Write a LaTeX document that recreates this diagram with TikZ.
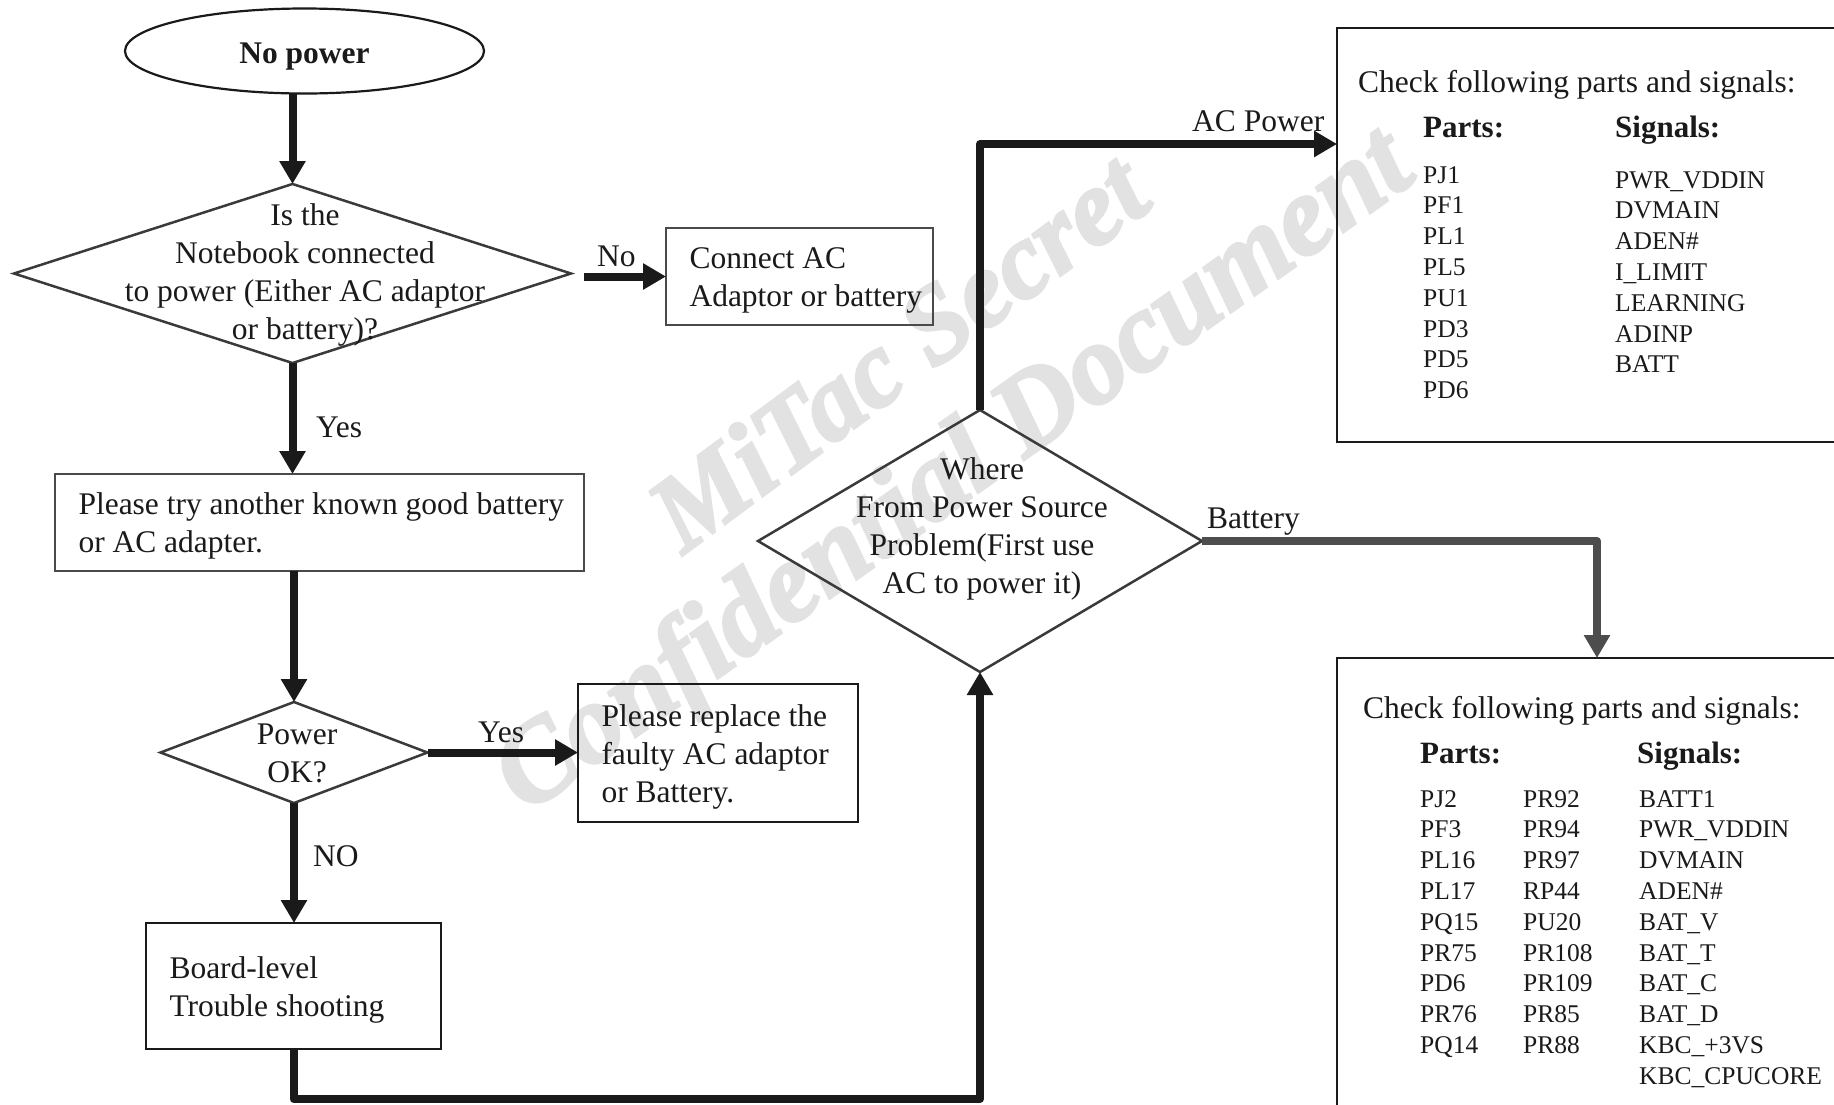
\documentclass[tikz,border=0pt]{standalone}
\usepackage{fontspec}
\setmainfont{Liberation Serif}
\newfontfamily\wmfamily{Liberation Serif}[BoldItalicFeatures={FakeBold=2.5}]
\usetikzlibrary{shapes.geometric,arrows.meta,calc}
\definecolor{ink}{HTML}{1A1A1A}
\definecolor{shapegray}{HTML}{3A3A3A}
\definecolor{boxgray}{HTML}{4A4A4A}
\definecolor{batgray}{HTML}{4D4D4D}
\definecolor{wm}{HTML}{E2E2E2}
\newcommand{\mainsz}{\fontsize{31.5}{38}\selectfont}
\newcommand{\listsz}{\fontsize{25.5}{30.8}\selectfont}
\newcommand{\nsp}{\spaceskip=0pt\xspaceskip=0pt\relax\rule{0pt}{29pt}}
\begin{document}
\begin{tikzpicture}[x=1pt,y=-1pt,
  wmark/.style={font=\wmfamily\bfseries\itshape, text=wm, inner sep=0pt, anchor=base west},
  term/.style={ellipse, draw=ink, line width=2.2pt, inner sep=0pt, outer sep=0pt, font=\mainsz\bfseries, text=ink, text height=24pt, text depth=0pt},
  decision/.style={diamond, draw=shapegray, line width=2.5pt, inner sep=0pt, outer sep=0pt},
  dtext/.style={align=center, font=\mainsz, inner sep=0pt, text=ink},
  box/.style={rectangle, draw=#1, line width=2.5pt, inner xsep=23.5pt, inner ysep=0pt, outer sep=0pt, align=left, font=\mainsz, text=ink},
  bigbox/.style={rectangle, draw=ink, line width=2.5pt, inner sep=0pt, outer sep=0pt, minimum width=563pt},
  lbl/.style={anchor=base west, font=\mainsz, inner sep=0pt, text=ink},
  hdr/.style={anchor=base west, font=\fontsize{31}{38}\selectfont\bfseries, inner sep=0pt, text=ink},
  col/.style={anchor=north west, align=left, font=\listsz, inner sep=0pt, text=ink},
  arr/.style={draw=ink, line width=8pt, line join=round, -{Triangle[width=25pt,length=23pt]}},
  batarr/.style={draw=batgray, line width=8pt, line join=round, -{Triangle[width=25pt,length=23pt]}}
]
\useasboundingbox (0,0) rectangle (1834,1104);
\clip (0,0) rectangle (1834,1104);
\fill[white] (0,0) rectangle (1834,1104);

% watermark
\node[wmark, rotate=36.5, font=\wmfamily\bfseries\itshape\fontsize{108}{120}\selectfont] (wm1) at (683,555) {MiTac Secret};
\node[wmark, rotate=35.5, font=\wmfamily\bfseries\itshape\fontsize{113}{120}\selectfont] (wm2) at (526,815) {Confidential Document};

% left column
\node[term, minimum width=359pt, minimum height=85pt] (start) at (304.5,51) {No power};
\node[decision, minimum width=557pt, minimum height=179pt,
  label={[dtext, xshift=12.5pt, yshift=-1.7pt]center:{Is the\\Notebook connected\\to power (Either AC adaptor\\or battery)?}}] (d1) at (292.5,273.5) {};
\node[box=boxgray, text width=220pt, minimum height=97pt] (b1) at (799.5,276.5) {\nsp Connect AC\\\mbox{Adaptor or battery}};
\node[box=boxgray, text width=482pt, minimum height=97pt] (b2) at (319.5,522.5) {\nsp\mbox{Please try another known good battery}\\or AC adapter.};
\node[decision, minimum width=267pt, minimum height=101pt,
  label={[dtext, xshift=3pt, yshift=-1pt]center:{Power\\OK?}}] (d3) at (294,752.5) {};
\node[box=ink, text width=233pt, minimum height=138pt] (b3) at (718,753) {\nsp Please replace the\\\mbox{faulty AC adaptor}\\or Battery.};
\node[box=ink, text width=248pt, minimum height=126pt] (b4) at (293.5,986) {\nsp Board-level\\Trouble shooting};

% middle decision
\node[decision, minimum width=444pt, minimum height=262pt,
  label={[dtext, xshift=2pt, yshift=12pt]center:{Where\\From Power Source\\Problem(First use\\AC to power it)}}] (d2) at (980,541) {};

% right boxes
\node[bigbox, minimum height=414pt] (rb1) at (1618.5,235) {};
\node[bigbox, minimum height=492pt] (rb2) at (1618.5,904) {};

\node[lbl] (h1) at (1358,92) {Check following parts and signals:};
\node[hdr] (p1h) at (1423,137) {Parts:};
\node[hdr] (s1h) at (1615,137) {Signals:};
\node[col] (p1) at (1423,161.4) {\strut PJ1\\PF1\\PL1\\PL5\\PU1\\PD3\\PD5\\PD6};
\node[col] (s1) at (1615,166.4) {\strut PWR\_VDDIN\\DVMAIN\\ADEN\#\\I\_LIMIT\\LEARNING\\ADINP\\BATT};

\node[lbl] (h2) at (1363,718) {Check following parts and signals:};
\node[hdr] (p2h) at (1420,763) {Parts:};
\node[hdr] (s2h) at (1637,763) {Signals:};
\node[col] (p2a) at (1420,785.4) {\strut PJ2\\PF3\\PL16\\PL17\\PQ15\\PR75\\PD6\\PR76\\PQ14};
\node[col] (p2b) at (1523,785.4) {\strut PR92\\PR94\\PR97\\RP44\\PU20\\PR108\\PR109\\PR85\\PR88};
\node[col] (s2) at (1639,785.4) {\strut BATT1\\PWR\_VDDIN\\DVMAIN\\ADEN\#\\BAT\_V\\BAT\_T\\BAT\_C\\BAT\_D\\KBC\_+3VS\\KBC\_CPUCORE};

% connector labels
\node[lbl] (lno) at (597,266) {No};
\node[lbl] (lyes1) at (316,437) {Yes};
\node[lbl] (lyes2) at (478,742) {Yes};
\node[lbl] (lNO) at (313,866) {NO};
\node[lbl] (lac) at (1192,131) {AC Power};
\node[lbl] (lbat) at (1207,528) {Battery};

% connectors
\draw[arr] (start.south -| d1.north) -- (d1.north);
\draw[arr] (d1.south) -- (d1.south |- b2.north);
\draw[arr] ($(d1.east |- b1.west)+(13,0)$) -- (b1.west);
\draw[arr] (b2.south -| d3.north) -- (d3.north);
\draw[arr] (d3.east) -- (b3.west |- d3.east);
\draw[arr] (d3.south) -- (d3.south |- b4.north);
\draw[arr] (b4.south) -- ++(0,50) -| (d2.south);
\draw[arr] (d2.north) |- ([yshift=-116pt]rb1.north west);
\draw[batarr] (d2.east) -| ([xshift=260pt]rb2.north west);
\end{tikzpicture}
\end{document}
